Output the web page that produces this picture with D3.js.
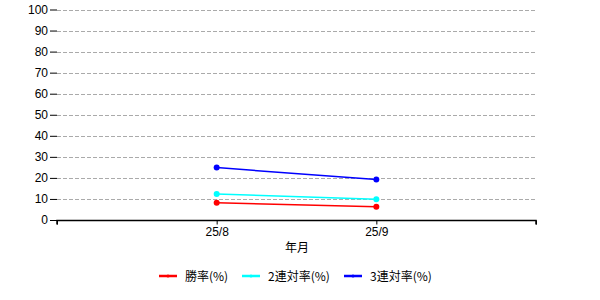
<!DOCTYPE html>
<html><head><meta charset="utf-8">
<script src="https://cdn.jsdelivr.net/npm/d3@7"></script>
<style>body{margin:0;background:#fff}svg{display:block}</style>
</head><body>
<svg id="c" width="600" height="300"></svg>
<script>
const categories = ["25/8", "25/9"];
const seriesNames = ["勝率(%)", "2連対率(%)", "3連対率(%)"];
const winRate = [8.2, 6.3];
const top2Rate = [12.4, 9.8];
const top3Rate = [24.9, 19.2];
const yTicks = [0,10,20,30,40,50,60,70,80,90,100];
const colors = ["#ff0000", "#00ffff", "#0000ff"];
const xTitle = "年月";

const series = [winRate, top2Rate, top3Rate];
const svg = d3.select("#c");
const font = "'Liberation Sans', Arial, sans-serif";
const L = 57, R = 536, T = 9.5, B = 220;

const x = d3.scaleLinear().domain([0, categories.length + 1]).range([L, R]);
const y = d3.scaleLinear().domain([0, 100]).range([B, T]);

// gridlines
svg.append("g").selectAll("line").data(yTicks.filter(d => d > 0)).join("line")
  .attr("x1", L).attr("x2", R)
  .attr("y1", d => Math.round(y(d)) + 0.5).attr("y2", d => Math.round(y(d)) + 0.5)
  .attr("stroke", "#aaaaaa").attr("stroke-dasharray", "4,2").attr("stroke-width", 1);

// y axis
const ya = svg.append("g").attr("transform", `translate(${L},0)`)
  .call(d3.axisLeft(y).tickValues(yTicks).tickSize(7).tickPadding(2).tickFormat(d3.format("d")));
ya.select(".domain").remove();
ya.selectAll(".tick line").attr("stroke", "#000");
ya.selectAll("text").attr("font-family", font).attr("font-size", 12).attr("fill", "#000");

// x axis
const xa = svg.append("g").attr("transform", `translate(0,${B + 0.5})`)
  .call(d3.axisBottom(x).tickValues(d3.range(0, categories.length + 2))
    .tickSize(4).tickPadding(3)
    .tickFormat(i => (i >= 1 && i <= categories.length) ? categories[i - 1] : ""));
xa.select(".domain").attr("stroke", "#000").attr("stroke-width", 1.5)
  .attr("d", `M${L},4V0H${R}V4`);
xa.selectAll(".tick line").attr("stroke", "#000");
xa.selectAll("text").attr("font-family", font).attr("font-size", 12).attr("fill", "#000");

svg.append("text").attr("x", (L + R) / 2 + 0.5).attr("y", 252)
  .attr("text-anchor", "middle").attr("font-family", "'Noto Sans CJK JP', sans-serif")
  .attr("font-size", 12).attr("fill", "#000").text(xTitle);

// lines
const line = d3.line().x((d, i) => x(i + 1)).y(d => y(d));
series.forEach((s, k) => {
  const g = svg.append("g");
  g.append("path").datum(s).attr("d", line).attr("fill", "none")
    .attr("stroke", colors[k]).attr("stroke-width", 1.5);
  g.selectAll("circle").data(s).join("circle")
    .attr("cx", (d, i) => x(i + 1)).attr("cy", d => y(d)).attr("r", 3)
    .attr("fill", colors[k]);
});

// legend
const legX = [159, 242, 344];
const lg = svg.append("g");
seriesNames.forEach((n, k) => {
  const g = lg.append("g").attr("transform", `translate(${legX[k]},276)`);
  g.append("line").attr("x1", 0).attr("x2", 18).attr("stroke", colors[k]).attr("stroke-width", 2.5);
  g.append("circle").attr("cx", 9).attr("r", 1.5).attr("fill", colors[k]);
  g.append("text").attr("x", 26).attr("y", 4.5).attr("font-family", "'Noto Sans CJK JP', sans-serif")
    .attr("font-size", 12).attr("fill", "#000").text(n);
});
</script>
</body></html>
